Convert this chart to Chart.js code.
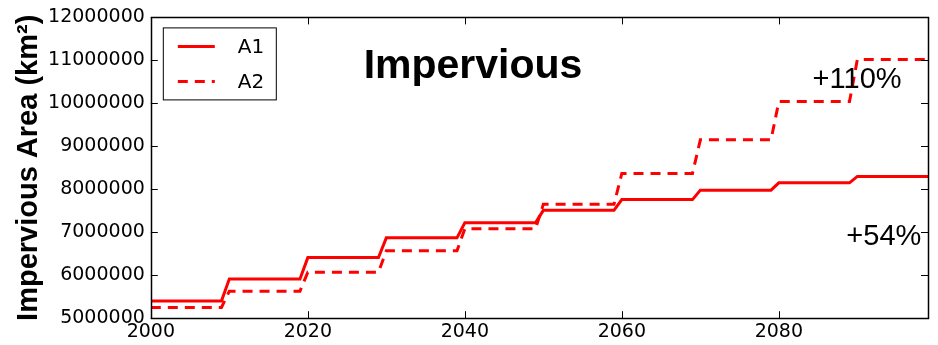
<!DOCTYPE html>
<html>
<head>
<meta charset="utf-8">
<script src="https://cdn.jsdelivr.net/npm/chart.js@4"></script>
<style>
  html, body { margin: 0; padding: 0; background: #fff; }
  #wrap { width: 938px; height: 345px; }
</style>
</head>
<body>
<div id="wrap"><canvas id="js-canvas-imp" width="938" height="345"></canvas></div>
<script>
// corner points of the step curves (year, impervious area km2)
const years = [2000, 2009, 2010, 2019, 2020, 2029, 2030, 2039, 2040, 2049,
  2050, 2059, 2060, 2069, 2070, 2079, 2080, 2089, 2090, 2099];
const a1 = [5400000, 5400000, 5910000, 5910000, 6410000, 6410000, 6870000, 6870000,
  7220000, 7220000, 7510000, 7510000, 7760000, 7760000, 7980000, 7980000,
  8150000, 8150000, 8300000, 8300000];
const a2 = [5250000, 5250000, 5630000, 5630000, 6070000, 6070000, 6570000, 6570000,
  7080000, 7080000, 7650000, 7650000, 8370000, 8370000, 9150000, 9150000,
  10040000, 10040000, 11020000, 11020000];
const xTicks = [2000, 2020, 2040, 2060, 2080];
const yTicks = [5000000, 6000000, 7000000, 8000000, 9000000, 10000000, 11000000, 12000000];

const RED = '#ff0000';

function pts(ys) {
  return years.map((x, i) => ({ x: x, y: ys[i] }));
}

// frame, inward ticks, legend box and text labels
const decor = {
  id: 'decor',
  afterDatasetsDraw(chart) {
    const ctx = chart.ctx;
    const a = chart.chartArea;
    const xs = chart.scales.x;
    const ys = chart.scales.y;
    const tl = 7;
    ctx.save();
    ctx.strokeStyle = '#000';
    ctx.lineWidth = 1;
    ctx.beginPath();
    xTicks.forEach(v => {
      const px = Math.round(xs.getPixelForValue(v)) + 0.5;
      ctx.moveTo(px, a.bottom); ctx.lineTo(px, a.bottom - tl);
      ctx.moveTo(px, a.top); ctx.lineTo(px, a.top + tl);
    });
    yTicks.forEach(v => {
      const py = Math.round(ys.getPixelForValue(v)) + 0.5;
      ctx.moveTo(a.left, py); ctx.lineTo(a.left + tl, py);
      ctx.moveTo(a.right, py); ctx.lineTo(a.right - tl, py);
    });
    ctx.stroke();
    ctx.lineWidth = 1.5;
    ctx.strokeRect(Math.round(a.left) + 0.5, Math.round(a.top) + 0.5,
      Math.round(a.right - a.left), Math.round(a.bottom - a.top));

    // legend
    const lx = a.left + 12, ly = a.top + 10, lw = 113, lh = 72;
    ctx.fillStyle = '#fff';
    ctx.fillRect(lx, ly, lw, lh);
    ctx.lineWidth = 1;
    ctx.strokeRect(lx + 0.5, ly + 0.5, lw, lh);
    chart.data.datasets.forEach((ds, i) => {
      const yy = ly + 19 + i * 35;
      ctx.strokeStyle = ds.borderColor;
      ctx.lineWidth = ds.borderWidth;
      ctx.setLineDash(ds.borderDash || []);
      ctx.beginPath();
      ctx.moveTo(lx + 15, yy); ctx.lineTo(lx + 52, yy);
      ctx.stroke();
      ctx.setLineDash([]);
      ctx.fillStyle = '#000';
      ctx.font = '20px "DejaVu Sans"';
      ctx.textBaseline = 'middle';
      ctx.textAlign = 'left';
      ctx.fillText(ds.label, lx + 75, yy + 1);
    });

    // title and change labels
    ctx.fillStyle = '#000';
    ctx.textBaseline = 'alphabetic';
    ctx.font = 'bold 41px "Liberation Sans", Arial';
    ctx.textAlign = 'center';
    ctx.fillText('Impervious', 473, 78);
    ctx.font = '29px "Liberation Sans", Arial';
    ctx.textAlign = 'left';
    ctx.fillText('+110%', xs.getPixelForValue(2084.3), ys.getPixelForValue(10365000));
    ctx.fillText('+54%', xs.getPixelForValue(2088.6), ys.getPixelForValue(6704000));
    ctx.restore();
  }
};

Chart.defaults.font.family = '"DejaVu Sans"';
Chart.defaults.color = '#000';

new Chart(document.getElementById('js-canvas-imp'), {
  type: 'line',
  data: {
    datasets: [
      {
        label: 'A1',
        data: pts(a1),
        borderColor: RED,
        borderWidth: 3,
        pointRadius: 0,
        fill: false
      },
      {
        label: 'A2',
        data: pts(a2),
        borderColor: RED,
        borderWidth: 3,
        borderDash: [10, 7],
        pointRadius: 0,
        fill: false
      }
    ]
  },
  options: {
    responsive: false,
    animation: false,
    layout: { padding: { left: 0, right: 10, top: 11, bottom: 0 } },
    plugins: { legend: { display: false }, tooltip: { enabled: false } },
    scales: {
      x: {
        type: 'linear',
        min: 2000,
        max: 2099,
        grid: { display: false, drawTicks: false },
        border: { display: false },
        ticks: {
          stepSize: 20,
          includeBounds: false,
          padding: 2,
          maxRotation: 0,
          font: { size: 19 },
          callback: v => String(v)
        }
      },
      y: {
        min: 5000000,
        max: 12000000,
        grid: { display: false, drawTicks: false },
        border: { display: false },
        ticks: {
          stepSize: 1000000,
          padding: 6,
          font: { size: 19 },
          callback: v => String(v)
        },
        title: {
          display: true,
          text: 'Impervious Area (km\u00b2)',
          font: { family: '"Liberation Sans", Arial', size: 29, weight: 'bold', lineHeight: 0.9 },
          padding: { top: 16, bottom: 0 }
        }
      }
    }
  },
  plugins: [decor]
});
</script>
</body>
</html>
